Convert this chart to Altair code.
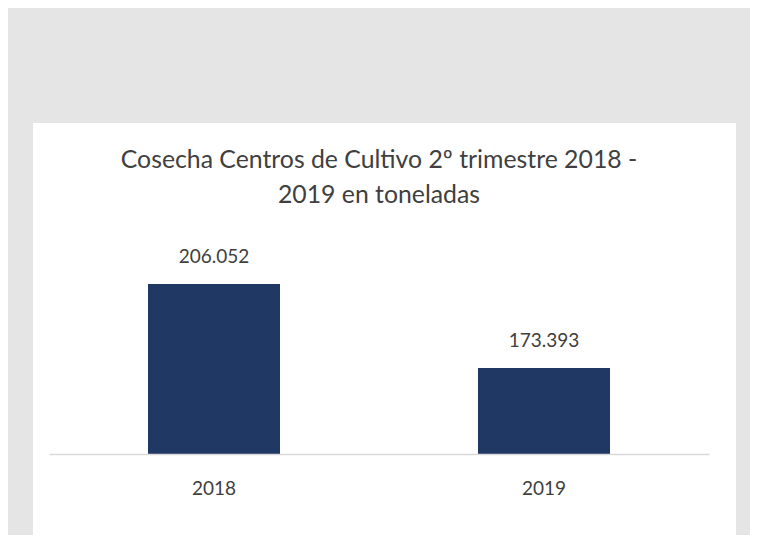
import altair as alt
import pandas as pd

years = ["2018", "2019"]
tonnes = [206052, 173393]
title_lines = ["Cosecha Centros de Cultivo 2º trimestre 2018 -", "2019 en toneladas"]

FONT = "Lato, sans-serif"
TXT = "#404040"

df = pd.DataFrame({"year": years, "value": tonnes})
panel = pd.DataFrame({"p": [0]})

x_enc = alt.X(
    "year:N",
    sort=years,
    scale=alt.Scale(paddingInner=0.6, paddingOuter=0.3),
    axis=alt.Axis(
        title=None, labelAngle=0, ticks=False, grid=False,
        domainColor="#d9d9d9", domainWidth=1.5,
        labelFont=FONT, labelFontSize=19, labelColor=TXT,
        labelBaseline="alphabetic", labelPadding=40, zindex=1,
    ),
)
y_enc = alt.Y(
    "value:Q",
    scale=alt.Scale(domain=[140000, 220000], zero=False, nice=False),
    axis=None,
)

bg = alt.Chart(panel).mark_rect(color="white").encode(
    x=alt.value(-16), x2=alt.value(687), y=alt.value(-125), y2=alt.value(300)
)

bars = alt.Chart(df).mark_bar(color="#1f3864").encode(
    x=x_enc, y=y_enc, y2=alt.datum(140000)
)

labels = alt.Chart(df).mark_text(
    dy=-21, baseline="alphabetic", fontSize=19, font=FONT, color=TXT
).encode(x=x_enc, y=y_enc, text=alt.Text("value:Q", format=",.0f"))

chart = (
    alt.layer(bg, bars, labels)
    .properties(
        width=660,
        height=206,
        autosize=alt.AutoSizeParams(type="none"),
        padding={"left": 41, "top": 240, "right": 41, "bottom": 81},
        background="#e5e5e5",
        title=alt.TitleParams(
            text=title_lines,
            font=FONT, fontSize=24.8, fontWeight="normal", color=TXT,
            lineHeight=35, baseline="alphabetic", anchor="middle",
            offset=0, dy=105, zindex=1, frame="group",
        ),
    )
    .configure_view(stroke=None)
    .configure(locale={"number": {"decimal": ",", "thousands": ".", "grouping": [3], "currency": ["", " €"]}})
)

chart.save("out.html", embed_options={"renderer": "svg", "actions": False})
